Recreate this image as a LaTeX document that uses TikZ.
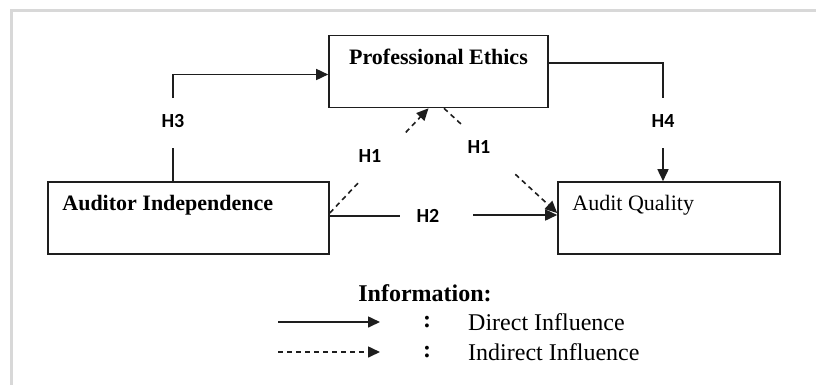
\documentclass[tikz,border=0pt]{standalone}
\usepackage{fontspec}
\setmainfont{Liberation Serif}
\newfontfamily\hypfont{Carlito}
\usetikzlibrary{arrows.meta,calc}
\definecolor{framegray}{RGB}{216,216,216}
\definecolor{ink}{RGB}{30,30,30}
\newcommand{\hyp}[3]{
\node[hyplab] (#1) at (#2) {#3};}

\begin{document}
\begin{tikzpicture}[x=1pt,y=-1pt,
  box/.style={draw=ink,line width=1.6pt,minimum width=#1,minimum height=72pt,inner sep=0},
  boxtxt/.style={inner sep=0,font=\fontsize{22}{26}\selectfont},
  hyplab/.style={inner sep=0,font=\hypfont\bfseries\fontsize{20}{22}\selectfont},
  legtxt/.style={inner sep=0,font=\fontsize{24}{28}\selectfont},
  ln/.style={draw=ink,line width=1.6pt},
  dsh/.style={ln,dash pattern=on 5pt off 4pt},
  arr/.style={-{Triangle[length=12pt,width=11pt]}}]
\useasboundingbox (0,0) rectangle (816,384);
\draw[framegray,line width=3pt] (830,10.5) -- (11.5,10.5) -- (11.5,400);

% boxes
\node[box=219pt] (pe) at (438.5,71.5) {};
\node[box=281pt] (ai) at (188.5,218) {};
\node[box=222pt] (aq) at (669,218) {};
\node[boxtxt,font=\fontsize{22}{26}\selectfont\bfseries] (pet) at ([yshift=-22pt]pe.north) {Professional Ethics};
\node[boxtxt,anchor=west,font=\fontsize{22}{26}\selectfont\bfseries] (ait) at ([xshift=15pt,yshift=-24pt]ai.north west) {Auditor Independence};
\node[boxtxt,anchor=west] (aqt) at ([xshift=15pt,yshift=-24pt]aq.north west) {Audit Quality};

% hypotheses
\hyp{h3}{173,121}{H3}
\hyp{h4}{663,121}{H4}
\hyp{h2}{428,216}{H2}
\hyp{h1a}{370,156}{H1}
\hyp{h1b}{479,147}{H1}

\draw[ln] ([xshift=-15.5pt]ai.north) -- ([yshift=-27pt]h3.center);
\draw[ln,arr] ([yshift=23pt]h3.center) |- ([yshift=-3pt]pe.west);
\draw[ln] ([yshift=8.5pt]pe.east) -| ([yshift=23pt]h4.center);
\draw[ln,arr] ([yshift=-27pt]h4.center) -- (aq.north -| h4);
\draw[ln] ([yshift=2pt]ai.east) -- ([xshift=-28pt]h2.center);
\draw[ln,arr] ([xshift=45pt,yshift=1pt]h2.center) -- ([yshift=3pt]aq.west);

\coordinate (p0) at ([yshift=5pt]ai.east);
\coordinate (p1) at ([xshift=-10pt]pe.south);
\draw[dsh] (p0) -- ($(p0)!0.29!(p1)$);
\draw[dsh,arr] ($(p0)!0.77!(p1)$) -- (p1);
\coordinate (q0) at ([xshift=5.5pt]pe.south);
\coordinate (q1) at ([yshift=5pt]aq.west);
\draw[dsh] (q0) -- ($(q0)!0.17!(q1)$);
\draw[dsh,arr] ($(q0)!0.63!(q1)$) -- (q1);

% legend
\node[legtxt,font=\fontsize{24}{28}\selectfont\bfseries] (info) at (425,293) {Information:};
\foreach \y/\s/\t in {322/ln/Direct Influence,352/dsh/Indirect Influence}{
  \coordinate (l\y a) at (278,\y);
  \coordinate (l\y b) at (380,\y);
  \draw[\s,arr] (l\y a) -- (l\y b);
  \node[legtxt,font=\fontsize{24}{28}\selectfont\bfseries] (c\y) at (427,\y) {:};
  \node[legtxt,anchor=west] (t\y) at (468,\y) {\t};
}
\end{tikzpicture}
\end{document}
